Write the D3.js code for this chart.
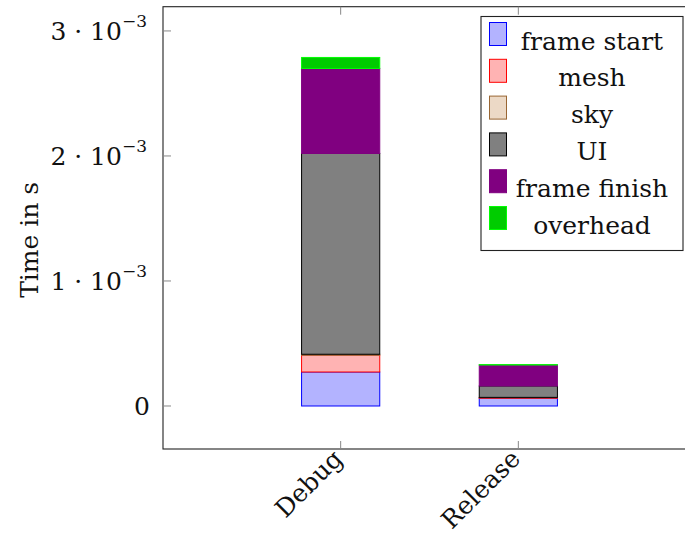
<!DOCTYPE html>
<html>
<head>
<meta charset="utf-8">
<script src="https://cdn.jsdelivr.net/npm/d3@7"></script>
<style>
  html, body { margin: 0; padding: 0; background: #fff; }
  svg { display: block; }
  text { font-family: "DejaVu Serif", "Liberation Serif", serif; fill: #111; }
</style>
</head>
<body>
<svg id="chart" width="685" height="534"></svg>
<script>
// Build configurations along the x axis
const builds = ["Debug", "Release"];

// Per-phase frame time in seconds, one value per build
const frameStart  = [0.272e-3, 0.062e-3];
const mesh        = [0.134e-3, 0.005e-3];
const sky         = [0.008e-3, 0.002e-3];
const ui          = [1.606e-3, 0.091e-3];
const frameFinish = [0.680e-3, 0.168e-3];
const overhead    = [0.088e-3, 0.003e-3];

const seriesNames = ["frame start", "mesh", "sky", "UI", "frame finish", "overhead"];
const seriesValues = [frameStart, mesh, sky, ui, frameFinish, overhead];

// y tick values and their mantissas (label = m · 10^-3)
const yTicks = [0, 1e-3, 2e-3, 3e-3];
const yTickMantissa = ["0", "1", "2", "3"];

const fills   = ["#b3b3ff", "#ffb3b3", "#ecd9c6", "#808080", "#800080", "#00cc00"];
const strokes = ["#0000ff", "#ff0000", "#996633", "#000000", "#800080", "#00ff00"];

const svg = d3.select("#chart");
const plotL = 163, plotR = 696, plotT = 6.7, plotB = 449;

const x = d3.scalePoint().domain(builds).range([plotL, plotR]).padding(1);
const y = d3.scaleLinear().domain([-0.344e-3, 3.194e-3]).range([plotB, plotT]);
const barW = x.step() * 0.44;

// stack rows: one object per build
const rows = builds.map((b, i) => {
  const o = { build: b };
  seriesNames.forEach((s, k) => { o[s] = seriesValues[k][i]; });
  return o;
});
const stacked = d3.stack().keys(seriesNames)(rows);

// bars
const gBars = svg.append("g");
stacked.forEach((layer, k) => {
  gBars.selectAll(null).data(layer).enter().append("rect")
    .attr("x", d => x(d.data.build) - barW / 2)
    .attr("width", barW)
    .attr("y", d => y(d[1]))
    .attr("height", d => Math.max(0, y(d[0]) - y(d[1])))
    .attr("fill", fills[k])
    .attr("stroke", strokes[k])
    .attr("stroke-width", 1);
});

// axis frame
svg.append("rect")
  .attr("x", plotL).attr("y", plotT)
  .attr("width", plotR - plotL).attr("height", plotB - plotT)
  .attr("fill", "none").attr("stroke", "#222").attr("stroke-width", 1.1);

// y ticks (inside) and labels
const tickLen = 8;
const gy = svg.append("g");
yTicks.forEach((v, i) => {
  const yy = y(v);
  gy.append("line").attr("x1", plotL).attr("x2", plotL + tickLen)
    .attr("y1", yy).attr("y2", yy).attr("stroke", "#888").attr("stroke-width", 1);
  const t = gy.append("text").attr("x", 147).attr("y", yy).attr("dy", "0.35em")
    .attr("text-anchor", "end").attr("font-size", 25);
  if (v === 0) {
    t.attr("x", 150).text(yTickMantissa[i]);
  } else {
    t.append("tspan").text(yTickMantissa[i] + " \u00B7 10");
    t.append("tspan").attr("font-size", 17).attr("dy", "-0.75em").text("\u22123");
  }
});

// x ticks (inside, top and bottom) and rotated labels
const gx = svg.append("g");
builds.forEach(b => {
  const xx = x(b);
  gx.append("line").attr("x1", xx).attr("x2", xx).attr("y1", plotB).attr("y2", plotB - tickLen)
    .attr("stroke", "#888");
  gx.append("line").attr("x1", xx).attr("x2", xx).attr("y1", plotT).attr("y2", plotT + tickLen)
    .attr("stroke", "#888");
  gx.append("text")
    .attr("transform", `translate(${xx - 9},${plotB - 1}) rotate(-45)`)
    .attr("text-anchor", "end").attr("dy", "0.7em")
    .attr("font-size", 25).text(b);
});

// y axis title
svg.append("text")
  .attr("transform", `translate(38,${(plotT + plotB) / 2 + 12}) rotate(-90)`)
  .attr("text-anchor", "middle").attr("font-size", 25).text("Time in s");

// legend
const lg = svg.append("g");
lg.append("rect").attr("x", 481).attr("y", 16.5).attr("width", 202).attr("height", 234)
  .attr("fill", "#fff").attr("stroke", "#222").attr("stroke-width", 1.1);
seriesNames.forEach((s, k) => {
  const base = 49.5 + k * 36.8;
  lg.append("rect").attr("x", 489.5).attr("y", base - 27).attr("width", 17).attr("height", 23)
    .attr("fill", fills[k]).attr("stroke", strokes[k]).attr("stroke-width", 1);
  lg.append("text").attr("x", 592).attr("y", base).attr("text-anchor", "middle")
    .attr("font-size", 25).text(s);
});
</script>
</body>
</html>
